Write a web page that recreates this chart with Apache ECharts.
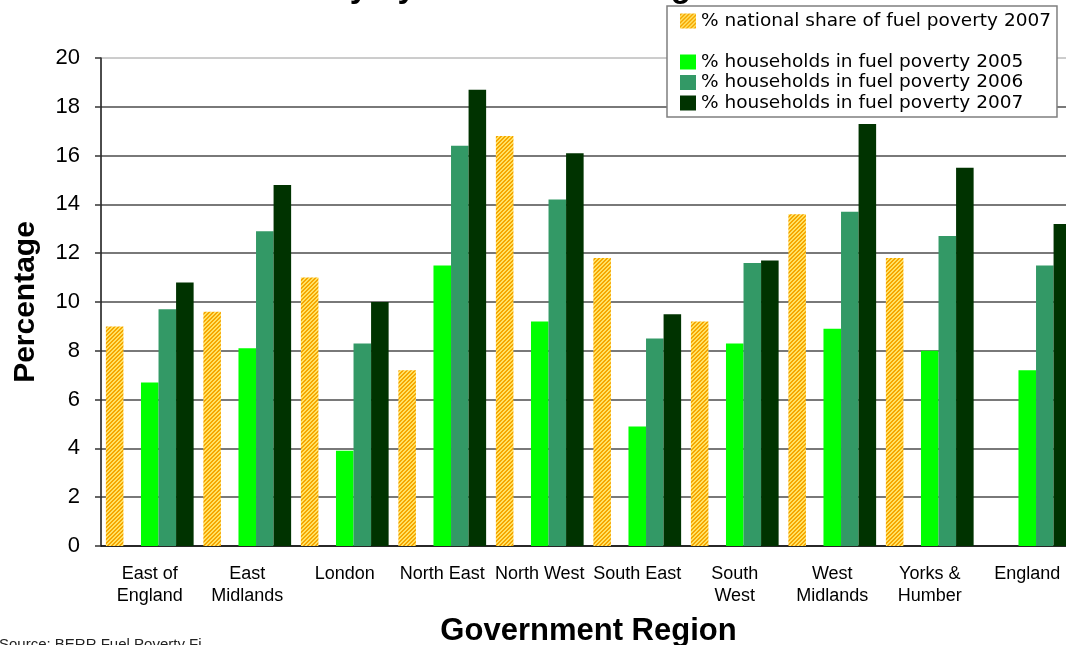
<!DOCTYPE html>
<html>
<head>
<meta charset="utf-8">
<script src="https://cdn.jsdelivr.net/npm/echarts@6/dist/echarts.min.js"></script>
<style>
  html, body { margin: 0; padding: 0; background: #ffffff; }
  #chart { width: 1066px; height: 645px; }
</style>
</head>
<body>
<div id="chart"></div>
<script>
// Regions on the category axis
const categories = [
  'East of\nEngland', 'East\nMidlands', 'London', 'North East', 'North West',
  'South East', 'South\nWest', 'West\nMidlands', 'Yorks &\nHumber', 'England'
];

// Series names (the blank one leaves an empty slot in each group and legend)
const nameShare2007 = '% national share of fuel poverty 2007';
const nameSpacer = ' ';
const nameHouseholds2005 = '% households in fuel poverty 2005';
const nameHouseholds2006 = '% households in fuel poverty 2006';
const nameHouseholds2007 = '% households in fuel poverty 2007';

// Values (percent)
const nationalShare2007 = [9.0, 9.6, 11.0, 7.2, 16.8, 11.8, 9.2, 13.6, 11.8, null];
const spacerValues = [null, null, null, null, null, null, null, null, null, null];
const households2005 = [6.7, 8.1, 3.9, 11.5, 9.2, 4.9, 8.3, 8.9, 8.0, 7.2];
const households2006 = [9.7, 12.9, 8.3, 16.4, 14.2, 8.5, 11.6, 13.7, 12.7, 11.5];
const households2007 = [10.8, 14.8, 10.0, 18.7, 16.1, 9.5, 11.7, 17.3, 15.5, 13.2];

// Value axis range
const yMin = 0;
const yMax = 20;
const yStep = 2;

const chartTitle = 'Fuel Poverty by Government Region';
const xAxisTitle = 'Government Region';
const yAxisTitle = 'Percentage';
const sourceNote = 'Source: BERR Fuel Poverty Figures';

// Orange / yellow diagonal hatch fill
function makeHatch() {
  const size = 4;
  const c = document.createElement('canvas');
  c.width = size; c.height = size;
  const ctx = c.getContext('2d');
  const img = ctx.createImageData(size, size);
  const dark = [246, 166, 0];
  const light = [255, 226, 100];
  for (let y = 0; y < size; y++) {
    for (let x = 0; x < size; x++) {
      const col = ((x + y) % size) < 2 ? dark : light;
      const i = (y * size + x) * 4;
      img.data[i] = col[0]; img.data[i + 1] = col[1]; img.data[i + 2] = col[2]; img.data[i + 3] = 255;
    }
  }
  ctx.putImageData(img, 0, 0);
  return c;
}

const hatchFill = { image: makeHatch(), repeat: 'repeat' };
const baseFont = 'Liberation Sans';

const chart = echarts.init(document.getElementById('chart'), null, { renderer: 'canvas' });

function barSeries(name, data, color) {
  return {
    name: name,
    type: 'bar',
    data: data,
    barGap: '0%',
    barCategoryGap: '10%',
    itemStyle: { color: color },
    emphasis: { disabled: true }
  };
}

chart.setOption({
  animation: false,
  backgroundColor: '#ffffff',
  grid: {
    left: 101, top: 58, width: 975, height: 488,
    outerBoundsMode: 'none',
    containLabel: false,
    show: true, borderColor: '#9a9a9a', borderWidth: 1, backgroundColor: 'transparent'
  },
  legend: {
    orient: 'vertical',
    left: 667, top: 6,
    padding: [5.5, 6, 4.5, 13],
    itemWidth: 16, itemHeight: 15, itemGap: 1.5,
    backgroundColor: '#ffffff',
    borderColor: '#7f7f7f', borderWidth: 1.5, borderRadius: 0,
    selectedMode: false,
    z: 10,
    textStyle: { fontFamily: 'DejaVu Sans', fontSize: 18.5, color: '#000' },
    data: [
      { name: nameShare2007, icon: 'rect' },
      { name: nameSpacer, icon: 'rect' },
      { name: nameHouseholds2005, icon: 'rect' },
      { name: nameHouseholds2006, icon: 'rect' },
      { name: nameHouseholds2007, icon: 'rect' }
    ]
  },
  xAxis: {
    type: 'category',
    data: categories,
    axisLine: { lineStyle: { color: '#111', width: 1.5 } },
    axisTick: { length: 7, lineStyle: { color: '#555', width: 1.5 } },
    axisLabel: {
      interval: 0, margin: 17, color: '#000',
      fontFamily: baseFont, fontSize: 18, lineHeight: 22
    },
    name: xAxisTitle,
    nameLocation: 'middle',
    nameGap: 70,
    nameTextStyle: { fontFamily: baseFont, fontWeight: 'bold', fontSize: 31, color: '#000' }
  },
  yAxis: {
    type: 'value',
    min: yMin, max: yMax, interval: yStep,
    axisLine: { show: true, lineStyle: { color: '#222', width: 1.5 } },
    axisTick: { show: true, length: 6, lineStyle: { color: '#333', width: 1.5 } },
    axisLabel: { margin: 21, color: '#000', fontFamily: baseFont, fontSize: 22 },
    splitLine: { show: true, showMaxLine: false, lineStyle: { color: '#4d4d4d', width: 1.5 } },
    name: yAxisTitle,
    nameLocation: 'middle',
    nameRotate: 90,
    nameGap: 60,
    nameTextStyle: { fontFamily: baseFont, fontWeight: 'bold', fontSize: 30, color: '#000' }
  },
  graphic: [
    {
      type: 'text', x: 170, y: -12, z: 1,
      style: {
        text: chartTitle, fill: '#000',
        font: 'bold 33px "Liberation Sans"', verticalAlign: 'middle', align: 'left'
      }
    },
    {
      type: 'text', x: -1, y: 637, z: 1,
      style: {
        text: sourceNote, fill: '#222',
        font: '15px "Liberation Sans"', verticalAlign: 'top', align: 'left',
        width: 210, overflow: 'truncate', ellipsis: ''
      }
    }
  ],
  series: [
    barSeries(nameShare2007, nationalShare2007, hatchFill),
    barSeries(nameSpacer, spacerValues, 'rgba(0,0,0,0)'),
    barSeries(nameHouseholds2005, households2005, '#00ff00'),
    barSeries(nameHouseholds2006, households2006, '#339966'),
    barSeries(nameHouseholds2007, households2007, '#003300')
  ]
});
</script>
</body>
</html>
